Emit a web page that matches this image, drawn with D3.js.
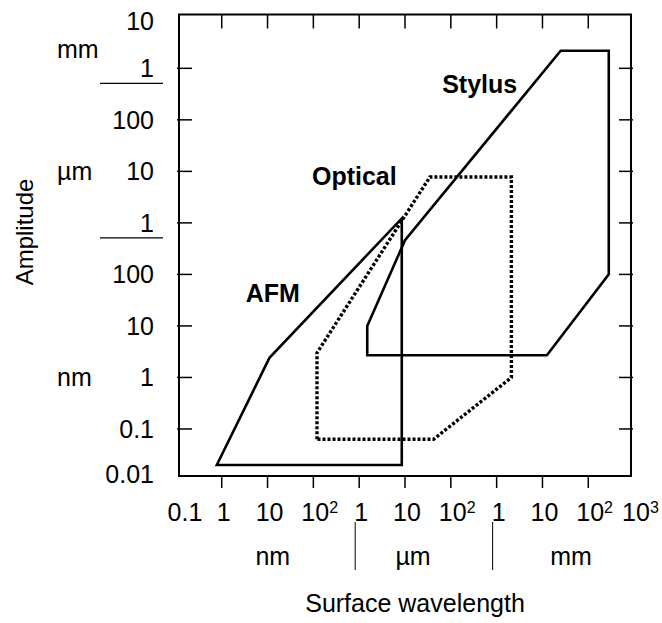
<!DOCTYPE html>
<html>
<head>
<meta charset="utf-8">
<script src="https://cdn.jsdelivr.net/npm/d3@7"></script>
<style>
body { margin: 0; background: #fff; }
text { font-family: Arial, "Liberation Sans", sans-serif; fill: #000; }
</style>
</head>
<body>
<script>
// all values in nm
var xTickValues = [0.1, 1, 10, 100, 1e3, 1e4, 1e5, 1e6, 1e7, 1e8, 1e9];
var xTickBase = ["0.1", "1", "10", "10", "1", "10", "10", "1", "10", "10", "10"];
var xTickSup  = ["", "", "", "2", "", "", "2", "", "", "2", "3"];
var xUnits = ["nm", "µm", "mm"];

var yTickValues = [1e7, 1e6, 1e5, 1e4, 1e3, 100, 10, 1, 0.1, 0.01];
var yTickLabels = ["10", "1", "100", "10", "1", "100", "10", "1", "0.1", "0.01"];
var yUnits = ["mm", "µm", "nm"];
var unitBreaks = [1e3, 1e6];

var afm     = [[0.78, 0.02], [11, 2.4], [8500, 1220], [8500, 0.02]];
var optical = [[120, 0.063], [120, 3], [3.5e4, 7.8e3], [2.1e6, 7.8e3], [2.1e6, 1], [4.2e4, 0.063]];
var stylus  = [[1500, 10], [1e4, 460], [2.5e7, 2.2e6], [2.8e8, 2.2e6], [2.8e8, 100], [1.25e7, 2.7], [1500, 2.7]];

var width = 662,
	height = 623;

var svg = d3.select("body").append("svg")
	.attr("width", width)
	.attr("height", height);

var x = d3.scaleLog().domain([0.1, 1e9]).range([175.9, 634.1]);
var y = d3.scaleLog().domain([0.01, 1e7]).range([480.5, 16.8]);

var frame = {left: 179, right: 631, top: 14.5, bottom: 476};

// ticks (inner ones only)
var xt = xTickValues.slice(1, -1), yt = yTickValues.slice(1, -1);
svg.selectAll(".tb").data(xt).enter().append("line")
	.attr("x1", x).attr("x2", x)
	.attr("y1", frame.bottom).attr("y2", frame.bottom + 12)
	.attr("stroke", "#000").attr("stroke-width", 1.5);
svg.selectAll(".tt").data(xt).enter().append("line")
	.attr("x1", x).attr("x2", x)
	.attr("y1", frame.top).attr("y2", frame.top + 14)
	.attr("stroke", "#000").attr("stroke-width", 1.5);
svg.selectAll(".tl").data(yt).enter().append("line")
	.attr("y1", y).attr("y2", y)
	.attr("x1", frame.left - 2).attr("x2", frame.left + 13)
	.attr("stroke", "#000").attr("stroke-width", 1.5);
svg.selectAll(".tr").data(yt).enter().append("line")
	.attr("y1", y).attr("y2", y)
	.attr("x1", frame.right - 12).attr("x2", frame.right + 2)
	.attr("stroke", "#000").attr("stroke-width", 1.5);

svg.append("rect")
	.attr("x", frame.left).attr("y", frame.top)
	.attr("width", frame.right - frame.left).attr("height", frame.bottom - frame.top)
	.attr("fill", "none").attr("stroke", "#000").attr("stroke-width", 2);

// y tick labels
svg.selectAll(".yl").data(yTickValues).enter().append("text")
	.attr("x", 154)
	.attr("y", function(d) { return Math.min(Math.max(y(d), 21), 474); })
	.attr("dy", "0.36em")
	.attr("text-anchor", "end")
	.style("font-size", "25px")
	.text(function(d, i) { return yTickLabels[i]; });

// x tick labels
var xl = svg.selectAll(".xl").data(xTickValues).enter().append("text")
	.attr("x", function(d, i) {
		var p = x(d) + 2;
		if (i == 0) p = Math.max(p, 185);
		return p;
	})
	.attr("y", 521)
	.attr("text-anchor", function(d, i) { return xTickSup[i] ? "start" : "middle"; })
	.style("font-size", "25px");
xl.append("tspan").text(function(d, i) { return xTickBase[i]; })
	.attr("dx", function(d, i) { return xTickSup[i] ? -14 : 0; });
xl.append("tspan").text(function(d, i) { return xTickSup[i]; })
	.attr("dy", -8).style("font-size", "16px");

// unit labels, left
var yUnitAt = [2.4e6, 1e4, 1];
svg.selectAll(".yu").data(yUnits).enter().append("text")
	.attr("x", 57)
	.attr("y", function(d, i) { return y(yUnitAt[i]); })
	.attr("dy", "0.36em")
	.style("font-size", "25px")
	.text(function(d) { return d; });
svg.selectAll(".ys").data(unitBreaks).enter().append("line")
	.attr("x1", 100).attr("x2", 163)
	.attr("y1", function(d) { return y(d) + 15; })
	.attr("y2", function(d) { return y(d) + 15; })
	.attr("stroke", "#000").attr("stroke-width", 1.2);

// unit labels, bottom
var xUnitAt = [13, 1.5e4, 4.2e7];
svg.selectAll(".xu").data(xUnits).enter().append("text")
	.attr("x", function(d, i) { return x(xUnitAt[i]); })
	.attr("y", 565)
	.attr("text-anchor", "middle")
	.style("font-size", "25px")
	.text(function(d) { return d; });
svg.selectAll(".xs").data(unitBreaks).enter().append("line")
	.attr("x1", function(d) { return x(d) - 4; })
	.attr("x2", function(d) { return x(d) - 4; })
	.attr("y1", 522).attr("y2", 570)
	.attr("stroke", "#000").attr("stroke-width", 1);

// axis titles
svg.append("text")
	.attr("x", 415).attr("y", 612)
	.attr("text-anchor", "middle")
	.style("font-size", "25px")
	.text("Surface wavelength");
svg.append("text")
	.attr("transform", "translate(33,232) rotate(-90)")
	.attr("text-anchor", "middle")
	.style("font-size", "24px")
	.text("Amplitude");

// regions
var line = d3.line()
	.x(function(d) { return x(d[0]); })
	.y(function(d) { return y(d[1]); });

svg.append("path").datum(stylus)
	.attr("d", function(d) { return line(d) + "Z"; })
	.attr("fill", "none").attr("stroke", "#000").attr("stroke-width", 2.6);
svg.append("path").datum(afm)
	.attr("d", function(d) { return line(d) + "Z"; })
	.attr("fill", "none").attr("stroke", "#000").attr("stroke-width", 2.6);
svg.append("path").datum(optical)
	.attr("d", function(d) { return line(d) + "Z"; })
	.attr("fill", "none").attr("stroke", "#000").attr("stroke-width", 3.4)
	.attr("stroke-dasharray", "3,2");

// region names
var names = [
	{text: "Stylus", at: [6.8e4, 3.3e5]},
	{text: "Optical", at: [98, 5.4e3]},
	{text: "AFM", at: [3.5, 29]}
];
svg.selectAll(".nm").data(names).enter().append("text")
	.attr("x", function(d) { return x(d.at[0]) - 1; })
	.attr("y", function(d) { return y(d.at[1]); })
	.style("font-size", "25px")
	.style("font-weight", "bold")
	.text(function(d) { return d.text; });
</script>
</body>
</html>
